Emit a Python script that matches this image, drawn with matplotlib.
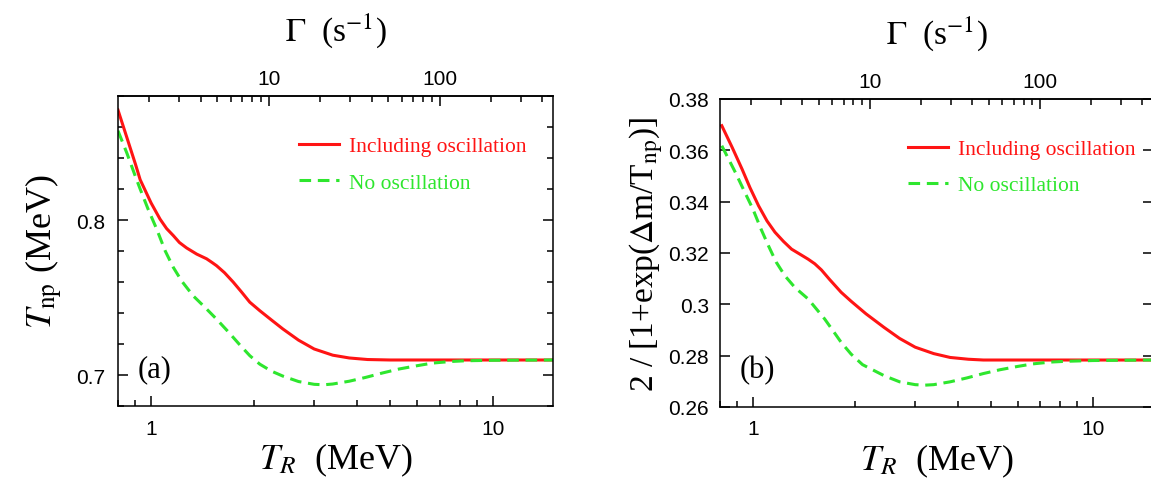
import numpy as np
import matplotlib
matplotlib.use("Agg")
import matplotlib.pyplot as plt
from matplotlib.ticker import FixedLocator, NullFormatter, FuncFormatter, MultipleLocator

plt.rcParams['font.family'] = ['Liberation Sans', 'DejaVu Sans']
plt.rcParams['mathtext.fontset'] = 'stix'

# panel (a): T_np (MeV) vs T_R (MeV)
TR_a_osc = [0.80, 0.85, 0.90, 0.929, 1.00, 1.062, 1.11, 1.161, 1.21, 1.27, 1.36, 1.453, 1.51,
            1.555, 1.64, 1.738, 1.84, 1.944, 2.08, 2.25, 2.43, 2.7, 3.0, 3.4, 3.8, 4.3, 5.0, 15.0]
Tnp_osc = [0.871, 0.853, 0.836, 0.826, 0.811, 0.8006, 0.7945, 0.790, 0.7855, 0.782, 0.778, 0.775, 0.7725,
           0.7705, 0.766, 0.760, 0.7535, 0.747, 0.7415, 0.7355, 0.7297, 0.7225, 0.7168, 0.7128, 0.711,
           0.7100, 0.7097, 0.7097]
TR_a_no = [0.80, 0.85, 0.90, 0.929, 0.98, 1.039, 1.10, 1.161, 1.23, 1.329, 1.44, 1.555, 1.68, 1.817,
           1.944, 2.08, 2.25, 2.43, 2.7, 3.0, 3.2, 3.4, 3.8, 4.25, 4.75, 5.32, 6.0, 6.66, 7.5, 8.32,
           10.0, 15.0]
Tnp_no = [0.8576, 0.843, 0.828, 0.820, 0.807, 0.794, 0.780, 0.7695, 0.7605, 0.751, 0.7435, 0.736, 0.728,
          0.7195, 0.7125, 0.707, 0.7025, 0.6993, 0.6958, 0.6940, 0.6937, 0.6942, 0.696, 0.6985, 0.7013,
          0.7039, 0.706, 0.7077, 0.7087, 0.7092, 0.7095, 0.7097]

# panel (b): 2/[1+exp(dm/T_np)] vs T_R (MeV)
TR_b_osc = [0.81, 0.87, 0.929, 0.98, 1.039, 1.10, 1.161, 1.23, 1.299, 1.38, 1.453, 1.52, 1.59, 1.68,
            1.817, 1.944, 2.15, 2.43, 2.7, 3.0, 3.4, 3.8, 4.3, 4.76, 15.0]
frac_osc = [0.3696, 0.361, 0.3527, 0.3455, 0.3384, 0.3325, 0.3281, 0.3245, 0.3215, 0.3194, 0.3176,
            0.3158, 0.3134, 0.3097, 0.3047, 0.3012, 0.2963, 0.2910, 0.2867, 0.2833, 0.2808, 0.2793,
            0.2786, 0.2783, 0.2783]
TR_b_no = [0.81, 0.888, 0.94, 1.0, 1.055, 1.111, 1.17, 1.242, 1.33, 1.453, 1.53, 1.625, 1.72, 1.817,
           1.944, 2.1, 2.43, 2.7, 3.0, 3.2, 3.4, 3.8, 4.25, 4.75, 5.32, 6.0, 6.66, 7.5, 8.32, 10.0, 15.0]
frac_no = [0.3618, 0.3514, 0.3445, 0.3371, 0.3295, 0.3228, 0.3165, 0.3111, 0.3065, 0.3021, 0.2985,
           0.2943, 0.2897, 0.2852, 0.2806, 0.2765, 0.2722, 0.2698, 0.2687, 0.2685, 0.2687, 0.2698,
           0.2713, 0.2730, 0.2745, 0.2758, 0.2768, 0.2775, 0.2778, 0.2781, 0.2783]

# Gamma (s^-1) scales as T_R^2
gam_coef = 2.05
gam_ticks = [10, 100]

RED = '#ff1414'
GREEN = '#2ee62e'
SERIF = ['Liberation Serif', 'DejaVu Serif']
DASH = (0, (3.8, 2.2))

fig = plt.figure(figsize=(11.51, 4.81), dpi=100)
ax_a = fig.add_axes([0.1025, 0.1538, 0.378, 0.6445])
ax_b = fig.add_axes([0.6255, 0.1518, 0.3762, 0.6403])


def style(ax):
    ax.set_xscale('log')
    ax.set_xlim(0.8, 15)
    ax.xaxis.set_major_formatter(FuncFormatter(lambda v, p: '%g' % v))
    ax.xaxis.set_minor_formatter(NullFormatter())
    ax.tick_params(which='both', direction='in', top=False, right=True,
                   labelsize=15, pad=9)
    ax.tick_params(which='major', length=7, width=1.1)
    ax.tick_params(which='minor', length=4, width=1.1)
    for s in ax.spines.values():
        s.set_linewidth(1.1)
    sec = ax.secondary_xaxis('top', functions=(lambda t: gam_coef * t ** 2,
                                                 lambda g: np.sqrt(np.clip(g, 1e-9, None) / gam_coef)))
    sec.xaxis.set_major_locator(FixedLocator(gam_ticks))
    sec.xaxis.set_major_formatter(FuncFormatter(lambda v, p: '%g' % v))
    sec.xaxis.set_minor_formatter(NullFormatter())
    sec.tick_params(which='both', direction='in', labelsize=15, pad=6)
    sec.tick_params(which='major', length=7, width=1.1)
    sec.tick_params(which='minor', length=4, width=1.1)
    sec.spines['top'].set_linewidth(1.1)
    sec.set_xlabel(r'$\Gamma$  (s$^{-1}$)', fontsize=24, family=SERIF, labelpad=21)
    ax.set_xlabel(r'$T_R$  (MeV)', fontsize=26, family=SERIF, labelpad=2)
    return sec


style(ax_a)
ax_a.plot(TR_a_osc, Tnp_osc, color=RED, lw=2.2, label='Including oscillation')
ax_a.plot(TR_a_no, Tnp_no, color=GREEN, lw=2.2, ls=DASH, label='No oscillation')
ax_a.set_ylim(0.68, 0.88)
ax_a.yaxis.set_major_locator(FixedLocator([0.7, 0.8]))
ax_a.yaxis.set_minor_locator(MultipleLocator(0.02))
ax_a.yaxis.set_major_formatter(FuncFormatter(lambda v, p: '%g' % round(v, 3)))
ax_a.set_ylabel(r'$T_{\rm np}$ (MeV)', fontsize=26, family=SERIF, labelpad=8)
ax_a.text(0.046, 0.119, '(a)', transform=ax_a.transAxes, fontsize=22,
          family=SERIF, va='center', ha='left')
ax_a.legend(loc='upper left', bbox_to_anchor=(0.392, 0.905), frameon=False,
            prop={'family': SERIF, 'size': 15.5}, handlelength=1.85,
            handletextpad=0.45, labelspacing=0.75, borderpad=0,
            labelcolor='linecolor')

style(ax_b)
ax_b.plot(TR_b_osc, frac_osc, color=RED, lw=2.2, label='Including oscillation')
ax_b.plot(TR_b_no, frac_no, color=GREEN, lw=2.2, ls=DASH, label='No oscillation')
ax_b.set_ylim(0.26, 0.38)
ax_b.yaxis.set_major_locator(MultipleLocator(0.02))
ax_b.yaxis.set_minor_locator(FixedLocator([]))
ax_b.yaxis.set_major_formatter(FuncFormatter(lambda v, p: '%g' % round(v, 3)))
ax_b.tick_params(axis='y', pad=8)
ax_b.set_ylabel(r'2 / [1+exp($\Delta$m/T$_{\rm np}$)]', fontsize=24, family=SERIF, labelpad=2)
ax_b.text(0.046, 0.123, '(b)', transform=ax_b.transAxes, fontsize=22,
          family=SERIF, va='center', ha='left')
ax_b.legend(loc='upper left', bbox_to_anchor=(0.41, 0.905), frameon=False,
            prop={'family': SERIF, 'size': 15.5}, handlelength=1.85,
            handletextpad=0.45, labelspacing=0.75, borderpad=0,
            labelcolor='linecolor')

fig.savefig('out.png', dpi=100)
